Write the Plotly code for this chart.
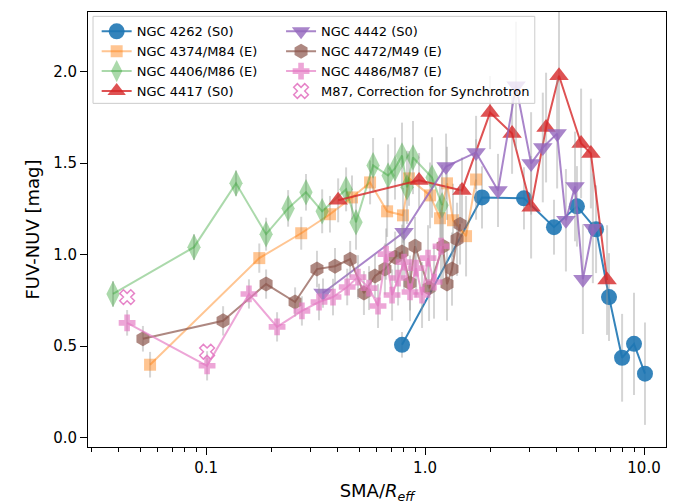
import plotly.graph_objects as go
import numpy as np

# ---------------- data ----------------
n4262_x = [0.785, 1.82, 2.83, 3.88, 4.94, 6.04, 6.92, 7.94, 9.0, 10.1]
n4262_y = [0.507, 1.313, 1.308, 1.150, 1.264, 1.139, 0.768, 0.436, 0.512, 0.349]
n4262_e = [0.07, 0.17, 0.17, 0.15, 0.22, 0.24, 0.24, 0.24, 0.28, 0.28]

n4374_x = [0.0555, 0.175, 0.272, 0.368, 0.464, 0.561, 0.671, 0.793, 0.845, 1.054, 1.171, 1.260, 1.342, 1.539, 1.710]
n4374_y = [0.398, 0.981, 1.117, 1.221, 1.313, 1.395, 1.237, 1.215, 1.417, 1.324, 1.199, 1.390, 1.188, 1.101, 1.411]
n4374_e = [0.07, 0.08, 0.09, 0.1, 0.12, 0.12, 0.14, 0.15, 0.15, 0.18, 0.18, 0.2, 0.2, 0.22, 0.22]

n4406_x = [0.0376, 0.0881, 0.137, 0.188, 0.237, 0.286, 0.339, 0.436, 0.484, 0.579, 0.678, 0.729, 0.785, 0.827, 0.881, 1.076, 1.196]
n4406_y = [0.785, 1.041, 1.390, 1.112, 1.253, 1.341, 1.237, 1.357, 1.177, 1.488, 1.433, 1.471, 1.542, 1.368, 1.531, 1.422, 1.270]
n4406_e = [0.07, 0.07, 0.07, 0.09, 0.1, 0.1, 0.12, 0.12, 0.15, 0.15, 0.17, 0.17, 0.18, 0.2, 0.2, 0.22, 0.22]

n4417_x = [0.401, 0.939, 1.475, 1.981, 2.497, 3.05, 3.57, 4.09, 5.16, 5.72, 6.78]
n4417_y = [1.297, 1.406, 1.351, 1.777, 1.662, 1.259, 1.695, 1.978, 1.608, 1.553, 0.861]
n4417_e = [0.12, 0.15, 0.18, 0.2, 0.22, 0.28, 0.3, 0.35, 0.3, 0.3, 0.3]

n4442_x = [0.342, 0.802, 1.247, 1.710, 2.154, 2.603, 3.05, 3.45, 4.01, 4.40, 4.84, 5.26, 5.84]
n4442_y = [0.790, 1.123, 1.482, 1.559, 1.351, 1.924, 1.499, 1.586, 1.662, 1.188, 1.373, 0.866, 1.144]
n4442_e = [0.08, 0.12, 0.18, 0.2, 0.2, 0.35, 0.28, 0.3, 0.3, 0.28, 0.3, 0.3, 0.3]

n4472_x = [0.0515, 0.1196, 0.188, 0.255, 0.321, 0.388, 0.455, 0.526, 0.591, 0.656, 0.730, 0.785, 0.854, 0.900, 1.043, 1.208, 1.260, 1.328, 1.400, 1.445]
n4472_y = [0.540, 0.638, 0.839, 0.741, 0.921, 0.937, 0.975, 0.790, 0.883, 0.921, 0.986, 1.014, 0.845, 1.046, 0.817, 1.046, 0.839, 0.921, 1.084, 1.166]
n4472_e = [0.07, 0.08, 0.08, 0.08, 0.1, 0.1, 0.1, 0.12, 0.12, 0.14, 0.14, 0.15, 0.15, 0.16, 0.18, 0.18, 0.2, 0.2, 0.2, 0.22]

n4486_x = [0.0436, 0.1011, 0.157, 0.211, 0.274, 0.328, 0.380, 0.441, 0.494, 0.555, 0.610, 0.664, 0.707, 0.753, 0.802, 0.854, 0.910, 0.969, 1.032, 1.099, 1.183]
n4486_y = [0.627, 0.392, 0.785, 0.605, 0.692, 0.741, 0.768, 0.823, 0.877, 0.817, 0.719, 1.003, 0.779, 0.872, 0.959, 0.796, 0.926, 0.779, 0.981, 0.850, 1.046]
n4486_e = [0.07, 0.08, 0.08, 0.08, 0.08, 0.1, 0.1, 0.1, 0.12, 0.12, 0.12, 0.14, 0.14, 0.15, 0.15, 0.16, 0.16, 0.18, 0.18, 0.2, 0.2]

m87c_x = [0.0436, 0.1011]
m87c_y = [0.768, 0.469]

x_tickvals = [0.1, 1.0, 10.0]
x_ticktext = ["0.1", "1.0", "10.0"]
y_tickvals = [0.0, 0.5, 1.0, 1.5, 2.0]

FONT = "DejaVu Sans"
ERR_COL = "rgba(150,150,150,0.4)"

series = [
    # name, x, y, err, rgb, alpha, symbol, size, legend
    ("NGC 4262 (S0)", n4262_x, n4262_y, n4262_e, (31, 119, 180), 0.9, "circle", 16, "legend"),
    ("NGC 4374/M84 (E)", n4374_x, n4374_y, n4374_e, (255, 127, 14), 0.45, "square", 12, "legend"),
    ("NGC 4406/M86 (E)", n4406_x, n4406_y, n4406_e, (44, 160, 44), 0.4, "diamond-tall", 19, "legend"),
    ("NGC 4417 (S0)", n4417_x, n4417_y, n4417_e, (214, 39, 40), 0.8, "triangle-up", 17, "legend"),
    ("NGC 4442 (S0)", n4442_x, n4442_y, n4442_e, (148, 103, 189), 0.8, "triangle-down", 17, "legend2"),
    ("NGC 4472/M49 (E)", n4472_x, n4472_y, n4472_e, (140, 86, 75), 0.7, "hexagon", 15, "legend2"),
    ("NGC 4486/M87 (E)", n4486_x, n4486_y, n4486_e, (227, 119, 194), 0.65, "cross", 14, "legend2"),
]

fig = go.Figure()
for name, xs, ys, es, rgb, a, sym, sz, lg in series:
    col = "rgba(%d,%d,%d,%.2f)" % (rgb[0], rgb[1], rgb[2], a)
    fig.add_trace(go.Scatter(
        x=xs, y=ys, name=name, mode="lines+markers",
        line=dict(color=col, width=2),
        marker=dict(symbol=sym, size=sz, color=col, line=dict(width=0)),
        error_y=dict(type="data", array=es, visible=True, color=ERR_COL, thickness=2, width=0),
        legend=lg,
    ))

fig.add_trace(go.Scatter(
    x=m87c_x, y=m87c_y, name="M87, Correction for Synchrotron", mode="markers",
    marker=dict(symbol="x-open", size=13, color="rgba(227,119,194,0.9)", line=dict(width=1.5, color="rgba(227,119,194,0.9)")),
    legend="legend2",
))

minor_vals = []
for d in [0.01, 0.1, 1.0, 10.0]:
    for k in range(2, 10):
        minor_vals.append(k * d)

fig.update_layout(
    width=679, height=504,
    margin=dict(l=88, r=13, t=12, b=57),
    paper_bgcolor="white", plot_bgcolor="white",
    font=dict(family=FONT, size=15, color="black"),
    showlegend=True,
    legend=dict(x=0.015, y=0.99, xanchor="left", yanchor="top", bgcolor="rgba(0,0,0,0)",
                font=dict(size=13, family=FONT), tracegroupgap=0, itemsizing="trace"),
    legend2=dict(x=0.334, y=0.99, xanchor="left", yanchor="top", bgcolor="rgba(0,0,0,0)",
                 font=dict(size=13, family=FONT), tracegroupgap=0, itemsizing="trace"),
    shapes=[dict(type="rect", xref="paper", yref="paper", x0=0.0087, x1=0.773, y0=0.79, y1=0.99,
                 fillcolor="rgba(255,255,255,0.8)", line=dict(color="rgb(204,204,204)", width=1), layer="above")],
)

fig.update_xaxes(
    type="log", range=[np.log10(0.0289), np.log10(12.6)], automargin=False,
    tickmode="array", tickvals=x_tickvals, ticktext=x_ticktext,
    ticks="outside", ticklen=7, tickwidth=1.2, tickcolor="black",
    showline=True, linecolor="black", linewidth=1, mirror=True,
    showgrid=False, zeroline=False,
    minor=dict(tickmode="array", tickvals=minor_vals, ticks="outside", ticklen=4, tickwidth=0.8, tickcolor="black", showgrid=False),
    title=dict(text="SMA/<i>R</i><sub><i>eff</i></sub>", font=dict(size=18, family=FONT), standoff=8),
)
fig.update_yaxes(
    range=[-0.052, 2.327], automargin=False,
    tickmode="array", tickvals=y_tickvals, tickformat=".1f",
    ticks="outside", ticklen=7, tickwidth=1.2, tickcolor="black",
    showline=True, linecolor="black", linewidth=1, mirror=True,
    showgrid=False, zeroline=False,
    title=dict(text="FUV-NUV [mag]", font=dict(size=18, family=FONT), standoff=8),
)

fig.write_html("out.html")
